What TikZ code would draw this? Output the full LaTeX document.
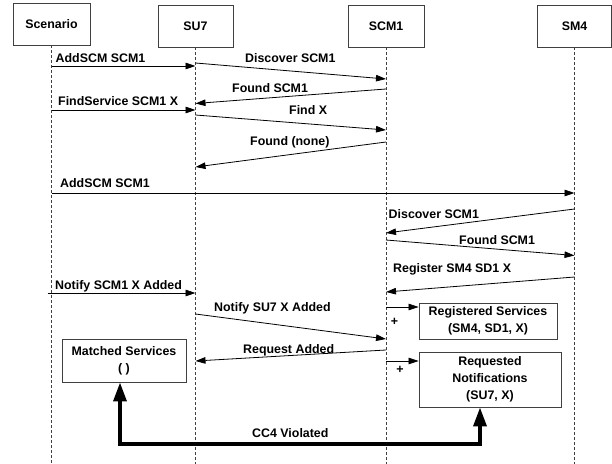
\documentclass[tikz,border=0pt]{standalone}
\usepackage{fontspec}
\setsansfont{Liberation Sans}
\usetikzlibrary{arrows.meta}

\begin{document}
\begin{tikzpicture}[
    x=1bp, y=-1bp,
    font=\sffamily\bfseries\fontsize{12.4bp}{17bp}\selectfont,
    head/.style={draw=black!75, line width=0.9bp, minimum width=75bp, minimum height=42bp, inner sep=0pt},
    lifeline/.style={draw=black!75, line width=1bp, dash pattern=on 3bp off 2bp},
    msg/.style={draw=black, line width=0.8bp, -{Triangle[length=10bp,width=6.5bp]}},
    msglabel/.style={anchor=base west, inner sep=0pt},
    store/.style={draw=black!75, line width=0.9bp, align=center, inner sep=0pt},
    plus/.style={inner sep=0pt},
    violation/.style={draw=black, line width=3.5bp, {Triangle[length=19bp,width=13bp]}-{Triangle[length=19bp,width=13bp]}}
]
\useasboundingbox (0,0) rectangle (612,464);

% Lifeline heads.
\node[head, minimum width=77bp] (scen) at (51.5,24) {Scenario};
\node[head] (su7) at (195.5,26) {SU7};
\node[head, minimum width=76bp] (scm) at (386,26) {SCM1};
\node[head, minimum width=74bp] (sm4) at (574.5,26) {SM4};
\foreach \n in {scen,su7,scm,sm4} {
    \draw[lifeline] (\n.south) -- (\n.south |- 0,464);
}

% Discovery of SCM1 and the first lookup.
\draw[msg] (scen |- 0,66) -- (su7 |- 0,66);
\node[msglabel] (addscm1) at (55.5,63) {AddSCM SCM1};
\draw[msg] (su7 |- 0,63) -- (scm |- 0,79);
\node[msglabel] (disc1) at (245,63) {Discover SCM1};
\draw[msg] (scm |- 0,89) -- (su7 |- 0,103.5);
\node[msglabel] (found1) at (232,93) {Found SCM1};
\draw[msg] (scen |- 0,110) -- (su7 |- 0,110);
\node[msglabel] (findsrv) at (58,106) {FindService SCM1 X};
\draw[msg] (su7 |- 0,115) -- (scm |- 0,130);
\node[msglabel] (findx) at (289,115) {Find X};
\draw[msg] (scm |- 0,142) -- (su7 |- 0,167);
\node[msglabel] (foundnone) at (250,146) {Found (none)};

% SM4 joins SCM1 and registers X.
\draw[msg] (scen |- 0,193) -- (sm4 |- 0,193);
\node[msglabel] (addscm2) at (60,188) {AddSCM SCM1};
\draw[msg] (sm4 |- 0,209) -- (scm |- 0,233);
\node[msglabel] (disc2) at (388.5,219) {Discover SCM1};
\draw[msg] (scm |- 0,240) -- (sm4 |- 0,255.5);
\node[msglabel] (found2) at (459,245) {Found SCM1};
\draw[msg] (sm4 |- 0,277) -- (scm |- 0,292);
\node[msglabel] (register) at (393,272.5) {Register SM4 SD1 X};

% Notification request.
\draw[msg] (scen |- 0,293) ++(-4,0) -- (su7 |- 0,293);
\node[msglabel] (notifyscm) at (55,290) {Notify SCM1 X Added};
\draw[msg] (su7 |- 0,314) -- (scm |- 0,339);
\node[msglabel] (notifysu) at (214,311) {Notify SU7 X Added};
\draw[msg] (scm |- 0,350) -- (su7 |- 0,361);
\node[msglabel] (reqadded) at (243,353.5) {Request Added};

% State held by SU7 and SCM1.
\node[store, minimum width=124bp, minimum height=43bp] (matched) at (124,360.5) {Matched Services\\( )};
\node[store, minimum width=138bp, minimum height=36bp] (reg) at (488,321) {Registered Services\\(SM4, SD1, X)};
\node[store, minimum width=142bp, minimum height=55bp] (req) at (490,379.5) {Requested\\Notifications\\(SU7, X)};
\draw[msg] (scm |- 0,307) -- (reg.west |- 0,307);
\node[plus] (plusreg) at (394.5,322) {+};
\draw[msg] (scm |- 0,361) -- (req.west |- 0,361);
\node[plus] (plusreq) at (400,370) {+};

% Violated constraint.
\draw[violation] (matched.south -| 120,0) -- (120,444) -- (480,444) -- (req.south -| 480,0);
\node[msglabel] (cc4) at (252,437) {CC4 Violated};

\end{tikzpicture}
\end{document}
